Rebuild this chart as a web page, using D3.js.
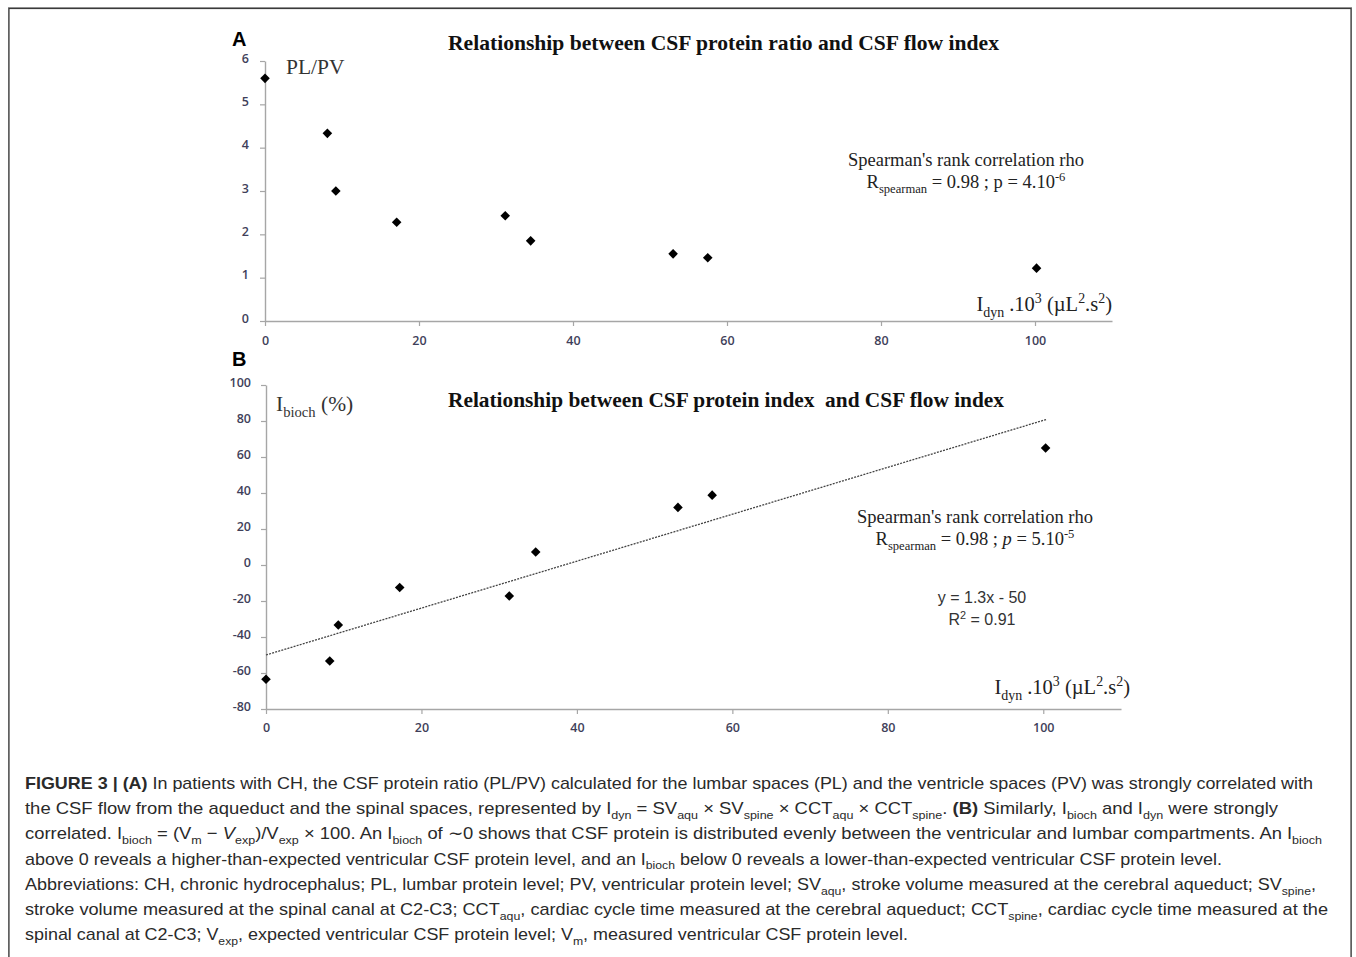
<!DOCTYPE html>
<html>
<head>
<meta charset="utf-8">
<script src="https://cdn.jsdelivr.net/npm/d3@7"></script>
<style>
  html,body{margin:0;padding:0;background:#fff;}
  svg{display:block;}
</style>
</head>
<body>
<svg id="chart" width="1356" height="957"></svg>
<script>
// ---------- DATA ----------
const xTicks = [0, 20, 40, 60, 80, 100];
const yTicksA = [0, 1, 2, 3, 4, 5, 6];
const yTicksB = [-80, -60, -40, -20, 0, 20, 40, 60, 80, 100];

// Panel A: I_dyn vs PL/PV
const idynA  = [0, 8.1, 9.2, 17.1, 31.2, 34.5, 53.0, 57.5, 100.2];
const ratioA = [5.6, 4.33, 3.0, 2.28, 2.43, 1.85, 1.55, 1.46, 1.22];

// Panel B: I_dyn vs I_bioch
const idynB  = [0, 8.2, 9.3, 17.2, 31.3, 34.7, 53.0, 57.4, 100.3];
const biochB = [-63.5, -53.3, -33.3, -12.5, -17.2, 7.2, 32.0, 38.8, 65.0];

// Linear trend line endpoints (B)
const trendX = [0, 100.5];
const trendY = [-50, 81];

// ---------- DRAW ----------
const svg = d3.select("#chart");
const serif = "'Liberation Serif','Times New Roman',serif";
const sans = "'Liberation Sans',Arial,sans-serif";
const tickFont = "'Open Sans','Liberation Sans',sans-serif";
const axisColor = "#a6a6a6";
const tickColor = "#3f3f5a";

// frame
svg.append("rect").attr("x", 8.5).attr("y", 7.5).attr("width", 1343).attr("height", 960)
  .attr("fill", "none").attr("stroke", "#9a9a9a").attr("stroke-width", 1);
svg.append("rect").attr("x", 9).attr("y", 8.5).attr("width", 1342).attr("height", 960)
  .attr("fill", "none").attr("stroke", "#3a3a3a").attr("stroke-width", 1.2);

// rich text helper: _{sub} ^{sup} [b]bold[/b] [i]italic[/i]
function rich(sel, str, fs) {
  const re = /(_\{[^}]*\}|\^\{[^}]*\}|\[b\][^\[]*\[\/b\]|\[i\][^\[]*\[\/i\])/;
  const parts = str.split(re).filter(p => p !== "");
  let shift = 0;
  parts.forEach(p => {
    let t = sel.append("tspan");
    let dy = 0, txt = p, size = null;
    if (p.startsWith("_{")) { txt = p.slice(2, -1); dy = fs * 0.28; size = fs * 0.68; }
    else if (p.startsWith("^{")) { txt = p.slice(2, -1); dy = -fs * 0.38; size = fs * 0.68; }
    else if (p.startsWith("[b]")) { txt = p.slice(3, -4); t.attr("font-weight", "bold"); }
    else if (p.startsWith("[i]")) { txt = p.slice(3, -4); t.attr("font-style", "italic"); }
    const d = dy - shift;
    if (d !== 0) t.attr("dy", d);
    shift = dy;
    if (size) t.attr("font-size", size);
    t.text(txt);
  });
}

function styleAxis(g) {
  g.select(".domain").attr("stroke", axisColor).attr("stroke-width", 1.4);
  g.selectAll(".tick line").attr("stroke", axisColor).attr("stroke-width", 1.2);
  g.selectAll(".tick text").attr("fill", tickColor).attr("font-family", tickFont)
    .attr("font-size", 12.5).attr("font-weight", 600);
}
const fmt = d => String(d);

const diamond = d3.symbol(d3.symbolSquare, 46);

// ===== Panel A =====
const xA = d3.scaleLinear().domain([0, 110]).range([265, 1112]);
const yA = d3.scaleLinear().domain([0, 6]).range([321, 61]);

svg.append("g").attr("transform", `translate(0,${yA(0)})`)
  .call(d3.axisBottom(xA).tickValues(xTicks).tickFormat(fmt).tickSize(5).tickSizeOuter(0).tickPadding(10))
  .call(styleAxis);
svg.append("g").attr("transform", `translate(${xA(0)},0)`)
  .call(d3.axisLeft(yA).tickValues(yTicksA).tickFormat(fmt).tickSize(5).tickSizeOuter(0).tickPadding(11))
  .call(g => { styleAxis(g); g.selectAll(".tick text").attr("dy", "0.1em"); });

svg.append("g").selectAll("path").data(idynA.map((x, i) => [x, ratioA[i]])).join("path")
  .attr("d", diamond)
  .attr("transform", d => `translate(${xA(d[0])},${yA(d[1])}) rotate(45)`)
  .attr("fill", "#000");

svg.append("text").attr("x", 232).attr("y", 46).attr("font-family", sans)
  .attr("font-weight", "bold").attr("font-size", 20).text("A");
svg.append("text").attr("x", 448).attr("y", 50)
  .attr("font-family", serif).attr("font-weight", "bold").attr("font-size", 21)
  .attr("fill", "#111").attr("textLength", 551).attr("lengthAdjust", "spacingAndGlyphs")
  .text("Relationship between CSF protein ratio and CSF flow index");
svg.append("text").attr("x", 286).attr("y", 74).attr("font-family", serif)
  .attr("font-size", 21.5).attr("fill", "#333").text("PL/PV");
svg.append("text").attr("x", 966).attr("y", 166).attr("text-anchor", "middle")
  .attr("font-family", serif).attr("font-size", 18.5).attr("fill", "#222")
  .text("Spearman's rank correlation rho");
rich(svg.append("text").attr("x", 966).attr("y", 188).attr("text-anchor", "middle")
  .attr("font-family", serif).attr("font-size", 18.5).attr("fill", "#222"),
  "R_{spearman} = 0.98 ; p = 4.10^{-6}", 18.5);
rich(svg.append("text").attr("x", 1112).attr("y", 311).attr("text-anchor", "end")
  .attr("font-family", serif).attr("font-size", 20.5).attr("fill", "#222"),
  "I_{dyn} .10^{3} (µL^{2}.s^{2})", 20.5);

// ===== Panel B =====
const xB = d3.scaleLinear().domain([0, 110]).range([266, 1121]);
const yB = d3.scaleLinear().domain([-80, 100]).range([709, 385]);

svg.append("g").attr("transform", `translate(0,${yB(-80)})`)
  .call(d3.axisBottom(xB).tickValues(xTicks).tickFormat(fmt).tickSize(5).tickSizeOuter(0).tickPadding(9))
  .call(styleAxis);
svg.append("g").attr("transform", `translate(${xB(0)},0)`)
  .call(d3.axisLeft(yB).tickValues(yTicksB).tickFormat(fmt).tickSize(5).tickSizeOuter(0).tickPadding(10))
  .call(g => { styleAxis(g); g.selectAll(".tick text").attr("dy", "0.1em"); });

svg.append("path")
  .datum(trendX.map((x, i) => [x, trendY[i]]))
  .attr("d", d3.line().x(d => xB(d[0])).y(d => yB(d[1])))
  .attr("fill", "none").attr("stroke", "#444").attr("stroke-width", 1.3)
  .attr("stroke-dasharray", "2,1.2");

svg.append("g").selectAll("path").data(idynB.map((x, i) => [x, biochB[i]])).join("path")
  .attr("d", diamond)
  .attr("transform", d => `translate(${xB(d[0])},${yB(d[1])}) rotate(45)`)
  .attr("fill", "#000");

svg.append("text").attr("x", 232).attr("y", 366).attr("font-family", sans)
  .attr("font-weight", "bold").attr("font-size", 20).text("B");
svg.append("text").attr("x", 448).attr("y", 407)
  .attr("font-family", serif).attr("font-weight", "bold").attr("font-size", 21)
  .attr("fill", "#111").attr("textLength", 556).attr("lengthAdjust", "spacingAndGlyphs")
  .text("Relationship between CSF protein index\u00a0 and CSF flow index");
rich(svg.append("text").attr("x", 276).attr("y", 411).attr("font-family", serif)
  .attr("font-size", 21.5).attr("fill", "#333"), "I_{bioch} (%)", 21.5);
svg.append("text").attr("x", 975).attr("y", 523).attr("text-anchor", "middle")
  .attr("font-family", serif).attr("font-size", 18.5).attr("fill", "#222")
  .text("Spearman's rank correlation rho");
rich(svg.append("text").attr("x", 975).attr("y", 545).attr("text-anchor", "middle")
  .attr("font-family", serif).attr("font-size", 18.5).attr("fill", "#222"),
  "R_{spearman} = 0.98 ; [i]p[/i] = 5.10^{-5}", 18.5);
svg.append("text").attr("x", 982).attr("y", 603).attr("text-anchor", "middle")
  .attr("font-family", sans).attr("font-size", 16).attr("fill", "#333").text("y = 1.3x - 50");
rich(svg.append("text").attr("x", 982).attr("y", 625).attr("text-anchor", "middle")
  .attr("font-family", sans).attr("font-size", 16).attr("fill", "#333"), "R^{2} = 0.91", 16);
rich(svg.append("text").attr("x", 1130).attr("y", 694).attr("text-anchor", "end")
  .attr("font-family", serif).attr("font-size", 20.5).attr("fill", "#222"),
  "I_{dyn} .10^{3} (µL^{2}.s^{2})", 20.5);

// ===== Caption =====
const captionLines = [
  "[b]FIGURE 3 | (A)[/b] In patients with CH, the CSF protein ratio (PL/PV) calculated for the lumbar spaces (PL) and the ventricle spaces (PV) was strongly correlated with",
  "the CSF flow from the aqueduct and the spinal spaces, represented by I_{dyn} = SV_{aqu} × SV_{spine} × CCT_{aqu} × CCT_{spine}. [b](B)[/b] Similarly, I_{bioch} and I_{dyn} were strongly",
  "correlated. I_{bioch} = (V_{m} − [i]V[/i]_{exp})/V_{exp} × 100. An I_{bioch} of ∼0 shows that CSF protein is distributed evenly between the ventricular and lumbar compartments. An I_{bioch}",
  "above 0 reveals a higher-than-expected ventricular CSF protein level, and an I_{bioch} below 0 reveals a lower-than-expected ventricular CSF protein level.",
  "Abbreviations: CH, chronic hydrocephalus; PL, lumbar protein level; PV, ventricular protein level; SV_{aqu}, stroke volume measured at the cerebral aqueduct; SV_{spine},",
  "stroke volume measured at the spinal canal at C2-C3; CCT_{aqu}, cardiac cycle time measured at the cerebral aqueduct; CCT_{spine}, cardiac cycle time measured at the",
  "spinal canal at C2-C3; V_{exp}, expected ventricular CSF protein level; V_{m}, measured ventricular CSF protein level."
];
const captionEnds = [1313, 1278, 1322, 1222, 1316, 1328, 908];
captionLines.forEach((ln, i) => {
  const t = svg.append("text").attr("x", 25).attr("y", 789 + i * 25.2)
    .attr("font-family", sans).attr("font-size", 17).attr("fill", "#2a2a2a");
  rich(t, ln, 17);
  t.attr("textLength", captionEnds[i] - 25).attr("lengthAdjust", "spacingAndGlyphs");
});
</script>
</body>
</html>
